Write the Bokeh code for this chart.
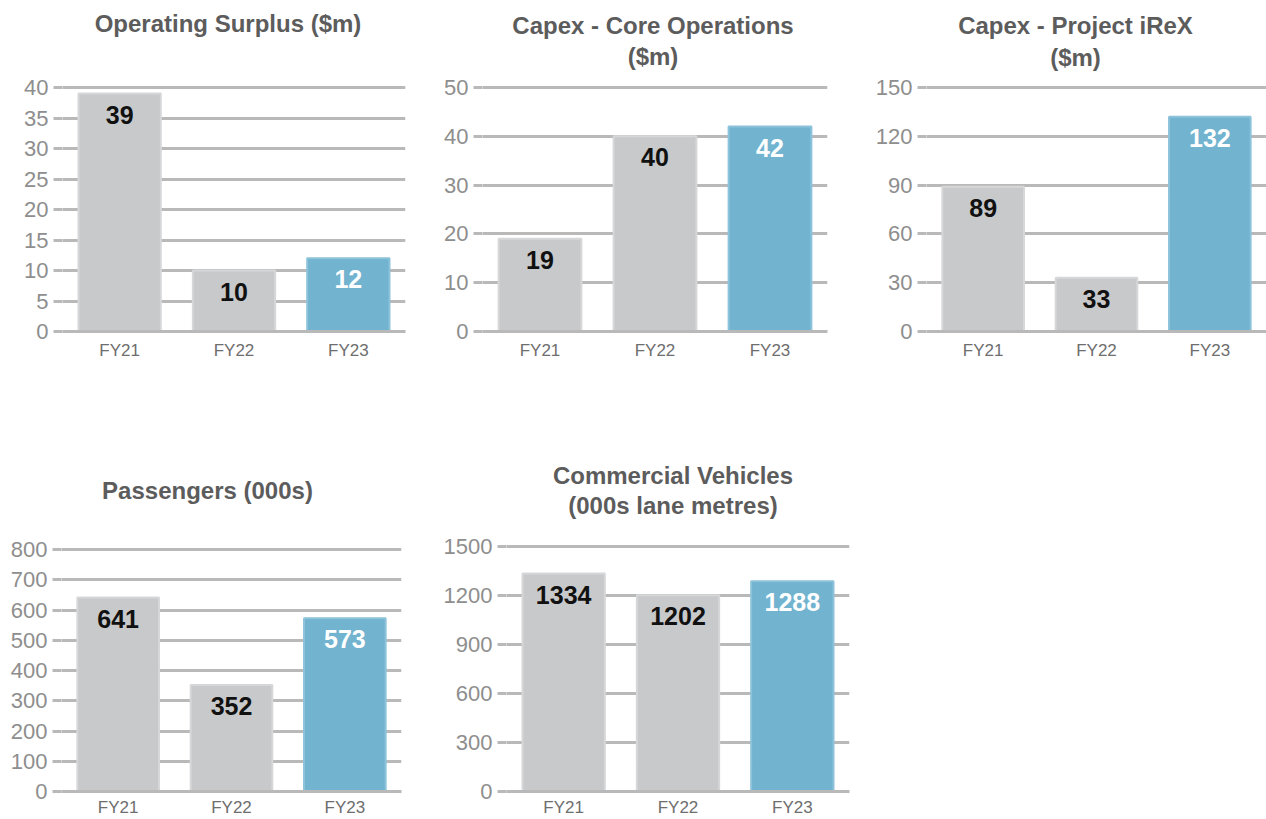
from bokeh.plotting import figure
from bokeh.models import ColumnDataSource, FactorRange, Range1d, FixedTicker
from bokeh.layouts import column, row
from bokeh.embed import file_html
from bokeh.resources import INLINE
from bokeh.core.properties import value

# ---- data ----
categories = ["FY21", "FY22", "FY23"]
operating_surplus = [39, 10, 12]
capex_core = [19, 40, 42]
capex_irex = [89, 33, 132]
passengers = [641, 352, 573]
commercial_vehicles = [1334, 1202, 1288]

surplus_ticks = [0, 5, 10, 15, 20, 25, 30, 35, 40]
capex_core_ticks = [0, 10, 20, 30, 40, 50]
capex_irex_ticks = [0, 30, 60, 90, 120, 150]
passenger_ticks = [0, 100, 200, 300, 400, 500, 600, 700, 800]
vehicle_ticks = [0, 300, 600, 900, 1200, 1500]

# ---- style ----
FONT = "Liberation Sans"
BAR_COLORS = ["#c8c9cb", "#c8c9cb", "#72b3cf"]
BAR_EDGES = ["#d6d7d9", "#d6d7d9", "#8cc3db"]
LABEL_COLORS = ["#111111", "#111111", "#ffffff"]
GRID = "#b9b9b9"


def panel(title_lines, values, ticks, width, height, left, right,
          top_tick_px, bottom, title_dx, title_px, xlab_standoff):
    """top_tick_px: pixel row (within the figure) of the highest tick;
    the frame reaches the figure top so the titles live inside it."""
    frame_bottom = height - bottom
    per_px = (ticks[-1] - ticks[0]) / (frame_bottom - top_tick_px)
    ymax = ticks[0] + per_px * frame_bottom
    p = figure(x_range=FactorRange(*categories),
               y_range=Range1d(ticks[0], ymax),
               width=width, height=height,
               min_border_left=left, min_border_right=right,
               min_border_top=0, min_border_bottom=bottom,
               output_backend="svg", toolbar_location=None)
    p.outline_line_color = None
    p.background_fill_color = "white"
    p.border_fill_color = "white"

    src = ColumnDataSource(dict(cat=categories, val=values,
                                fill=BAR_COLORS, edge=BAR_EDGES,
                                lab=[str(v) for v in values],
                                lcol=LABEL_COLORS))
    p.vbar(x="cat", top="val", width=0.72, bottom=0, source=src,
           fill_color="fill", line_color="edge", line_width=2)
    p.text(x="cat", y="val", text="lab", source=src,
           text_color="lcol", text_font=value(FONT), text_font_size="25px",
           text_font_style="bold", text_align="center",
           text_baseline="middle", y_offset=21)

    # title lines, placed through the panel's own scales
    tsrc = ColumnDataSource(dict(
        x=[categories[1]] * len(title_lines),
        y=[ticks[0] + per_px * (frame_bottom - ty) for ty in title_px],
        t=title_lines))
    p.text(x="x", y="y", text="t", source=tsrc, x_offset=title_dx,
           text_font=value(FONT), text_font_size="24px",
           text_font_style="bold", text_color="#5c5c5c",
           text_align="center", text_baseline="middle")

    # grid
    p.xgrid.grid_line_color = None
    p.ygrid.grid_line_color = GRID
    p.ygrid.grid_line_width = 3
    p.yaxis.ticker = FixedTicker(ticks=ticks)

    # y axis
    p.yaxis.axis_line_color = None
    p.yaxis.major_tick_line_color = GRID
    p.yaxis.major_tick_line_width = 3
    p.yaxis.major_tick_out = 9
    p.yaxis.major_tick_in = 0
    p.yaxis.minor_tick_line_color = None
    p.yaxis.major_label_standoff = 5
    p.yaxis.major_label_text_font = FONT
    p.yaxis.major_label_text_font_size = "22px"
    p.yaxis.major_label_text_color = "#8e8e8e"

    # x axis
    p.xaxis.axis_line_color = GRID
    p.xaxis.axis_line_width = 3
    p.xaxis.major_tick_line_color = None
    p.xaxis.minor_tick_line_color = None
    p.xaxis.major_tick_out = 0
    p.xaxis.major_tick_in = 0
    p.xaxis.major_label_standoff = xlab_standoff
    p.xaxis.major_label_text_line_height = 1.0
    p.xaxis.major_label_text_font = FONT
    p.xaxis.major_label_text_font_size = "17px"
    p.xaxis.major_label_text_color = "#6e6e6e"
    return p


ROW1_H = 405
ROW2_H = 819 - ROW1_H

p1 = panel(["Operating Surplus ($m)"], operating_surplus, surplus_ticks,
           430, ROW1_H, 62, 25, 87, ROW1_H - 331, -6, [23], 9)
p2 = panel(["Capex - Core Operations", "($m)"], capex_core, capex_core_ticks,
           436, ROW1_H, 52, 39, 87, ROW1_H - 331, -2, [25, 56], 9)
p3 = panel(["Capex - Project iReX", "($m)"], capex_irex, capex_irex_ticks,
           400, ROW1_H, 60, 0, 87, ROW1_H - 331, -21, [25, 57], 9)
p4 = panel(["Passengers (000s)"], passengers, passenger_ticks,
           430, ROW2_H, 61, 29, 549 - ROW1_H, 819 - 791, -24,
           [490 - ROW1_H], 6)
p5 = panel(["Commercial Vehicles", "(000s lane metres)"], commercial_vehicles,
           vehicle_ticks, 436, ROW2_H, 76, 17, 546 - ROW1_H, 819 - 791, -5,
           [475 - ROW1_H, 505 - ROW1_H], 6)

layout = column(row(p1, p2, p3), row(p4, p5))
open("out.html", "w").write(file_html(layout, INLINE))
